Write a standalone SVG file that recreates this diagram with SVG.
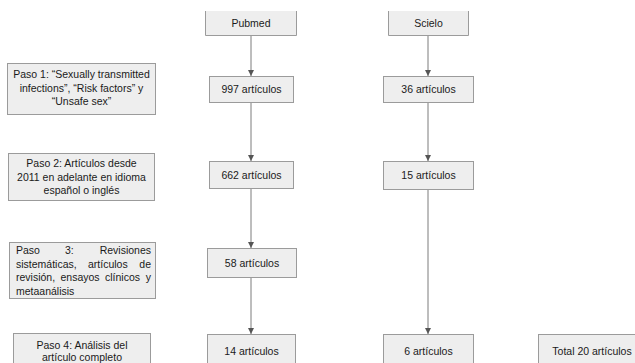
<svg xmlns="http://www.w3.org/2000/svg" width="635" height="363" viewBox="0 0 635 363">
<defs>
<style>
.box{fill:#eeeeee;stroke:#9b9b9b;stroke-width:1}
.fill{fill:#eeeeee;stroke:none}
.edge{fill:none;stroke:#9b9b9b;stroke-width:1}
.t{font-family:"Liberation Sans",Arial,Helvetica,sans-serif;font-size:10.5px;fill:#1a1a1a}
.c{text-anchor:middle}
.e{text-anchor:end}
.conn{stroke:#7d7d7d;stroke-width:1;fill:none;marker-end:url(#ah)}
</style>
<marker id="ah" viewBox="0 0 6 7" refX="6" refY="3.5" markerWidth="6" markerHeight="7" markerUnits="userSpaceOnUse" orient="auto">
<path d="M0,0.5 L6,3.5 L0,6.5 Z" fill="#555555"/>
</marker>
</defs>
<rect width="635" height="363" fill="#ffffff"/>

<g id="connectors">
<line class="conn" x1="251" y1="35.5" x2="251" y2="76"/>
<line class="conn" x1="251" y1="102.5" x2="251" y2="161"/>
<line class="conn" x1="251" y1="188.5" x2="251" y2="248"/>
<line class="conn" x1="251" y1="277.5" x2="251" y2="334"/>
<line class="conn" x1="428" y1="35.5" x2="428" y2="76"/>
<line class="conn" x1="428" y1="102.5" x2="428" y2="161"/>
<line class="conn" x1="428" y1="189.5" x2="428" y2="334"/>
</g>

<g id="pubmed">
<rect class="fill" x="205.5" y="11" width="91" height="24.5"/>
<path class="edge" d="M205.5,11 V35.5 H296.5 V11"/>
<text class="t c" x="251" y="27">Pubmed</text>
</g>
<g id="scielo">
<rect class="fill" x="388.5" y="11" width="80" height="24.5"/>
<path class="edge" d="M388.5,11 V35.5 H468.5 V11"/>
<text class="t c" x="428.5" y="27">Scielo</text>
</g>

<g id="paso1">
<rect class="box" x="7.5" y="63.5" width="148" height="51"/>
<text class="t c" x="81.5" y="78">Paso 1: “Sexually transmitted</text>
<text class="t c" x="81.5" y="91.5">infections”, “Risk factors” y</text>
<text class="t c" x="81.5" y="105">“Unsafe sex”</text>
</g>
<g id="pub997">
<rect class="box" x="209.5" y="76.5" width="84" height="26"/>
<text class="t c" x="251.5" y="93">997 artículos</text>
</g>
<g id="sci36">
<rect class="box" x="383.5" y="76.5" width="90" height="26"/>
<text class="t c" x="428.5" y="93">36 artículos</text>
</g>

<g id="paso2">
<rect class="box" x="8.5" y="153.5" width="146" height="47"/>
<text class="t c" x="81.5" y="167">Paso 2: Artículos desde</text>
<text class="t c" x="81.5" y="180.5">2011 en adelante en idioma</text>
<text class="t c" x="81.5" y="194">español o inglés</text>
</g>
<g id="pub662">
<rect class="box" x="209.5" y="161.5" width="84" height="27"/>
<text class="t c" x="251.5" y="178.5">662 artículos</text>
</g>
<g id="sci15">
<rect class="box" x="383.5" y="161.5" width="90" height="28"/>
<text class="t c" x="428.5" y="179">15 artículos</text>
</g>

<g id="paso3">
<rect class="box" x="9.5" y="242.5" width="146" height="56"/>
<text class="t" x="16" y="254">Paso</text>
<text class="t" x="65" y="254">3:</text>
<text class="t e" x="151" y="254">Revisiones</text>
<text class="t" x="16" y="267.5">sistemáticas,</text>
<text class="t" x="88" y="267.5">artículos</text>
<text class="t e" x="151" y="267.5">de</text>
<text class="t" x="16" y="281">revisión,</text>
<text class="t" x="60.5" y="281">ensayos</text>
<text class="t" x="105" y="281">clínicos</text>
<text class="t e" x="151" y="281">y</text>
<text class="t" x="16" y="294.5">metaanálisis</text>
</g>
<g id="pub58">
<rect class="box" x="207.5" y="248.5" width="89" height="29"/>
<text class="t c" x="252" y="266.5">58 artículos</text>
</g>

<g id="paso4">
<rect class="box" x="13.5" y="333.5" width="137" height="40"/>
<text class="t c" x="82" y="349">Paso 4: Análisis del</text>
<text class="t c" x="82" y="360.5">artículo completo</text>
</g>
<g id="pub14">
<rect class="box" x="207.5" y="334.5" width="88" height="40"/>
<text class="t c" x="251.5" y="355">14 artículos</text>
</g>
<g id="sci6">
<rect class="box" x="383.5" y="334.5" width="90" height="40"/>
<text class="t c" x="428.5" y="355">6 artículos</text>
</g>
<g id="total">
<rect class="box" x="538.5" y="334.5" width="108" height="40"/>
<text class="t c" x="592" y="355">Total 20 artículos</text>
</g>
</svg>
